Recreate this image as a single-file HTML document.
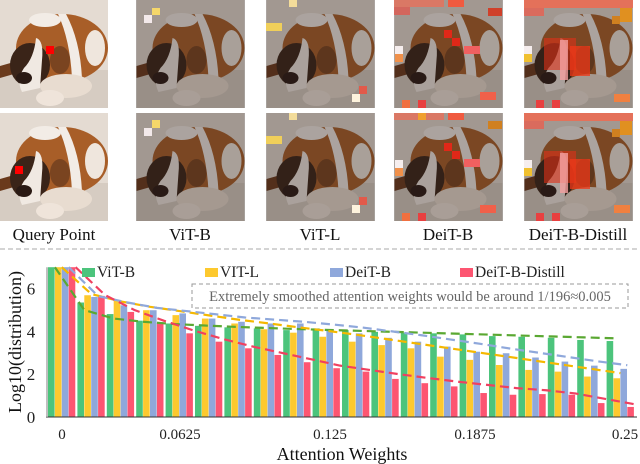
<!DOCTYPE html>
<html><head><meta charset="utf-8">
<style>
body{margin:0;background:#fff;width:640px;height:464px;overflow:hidden;font-family:"Liberation Serif",serif;}
svg{display:block}
</style></head>
<body>
<svg width="640" height="464" viewBox="0 0 640 464" xmlns="http://www.w3.org/2000/svg">
<defs>
<symbol id="dog" viewBox="0 0 108 108">
<rect width="108" height="108" fill="#e4dbd2"/>
<rect x="0" y="70" width="108" height="38" fill="#d6ccc2"/>
<path d="M0 66 L14 62 L14 74 L0 78Z" fill="#6a3a1c"/>
<ellipse cx="62" cy="48" rx="46" ry="34" fill="#a85e28"/>
<path d="M58 14 Q70 40 72 78 L82 78 Q80 40 66 14Z" fill="#f2ece6"/>
<ellipse cx="45" cy="20" rx="16" ry="7" fill="#f2ece6"/>
<ellipse cx="95" cy="48" rx="10" ry="18" fill="#efe6dd"/>
<ellipse cx="30" cy="65" rx="20" ry="22" fill="#3a2418"/>
<path d="M36 38 Q44 40 42 60 L40 88 L22 92 Q16 80 24 68 Q34 58 36 38Z" fill="#f0e9e2"/>
<ellipse cx="24" cy="78" rx="8" ry="6" fill="#2a1a14"/>
<ellipse cx="66" cy="86" rx="26" ry="12" fill="#e8dcd0"/>
<ellipse cx="50" cy="98" rx="14" ry="8" fill="#efe4da"/>
<ellipse cx="60" cy="60" rx="10" ry="14" fill="#7a4420"/>
</symbol>
</defs>

<g>
<g><use href="#dog" x="0" y="0" width="108" height="108"/><rect x="46" y="46" width="8" height="8" fill="#ff0000"/></g>
<g><use href="#dog" x="0" y="113" width="108" height="108"/><rect x="15" y="166" width="8" height="8" fill="#ff0000"/></g>

<g><use href="#dog" x="136" y="0" width="109" height="108"/><rect x="136" y="0" width="109" height="108" fill="rgba(40,30,25,0.35)"/><rect x="152" y="8" width="8" height="7" fill="#f5d76a"/><rect x="144" y="15" width="8" height="8" fill="#f3e9ea"/></g>
<g><use href="#dog" x="136" y="113" width="109" height="108"/><rect x="136" y="113" width="109" height="108" fill="rgba(40,30,25,0.35)"/><rect x="152" y="120" width="8" height="8" fill="#f5d76a"/><rect x="144" y="128" width="8" height="8" fill="#f3e9ea"/></g>

<g><use href="#dog" x="266" y="0" width="109" height="108"/><rect x="266" y="0" width="109" height="108" fill="rgba(40,30,25,0.35)"/><rect x="289" y="0" width="8" height="7" fill="#f3dc9a"/><rect x="266" y="23" width="16" height="8" fill="#f0cf5a"/><rect x="352" y="94" width="8" height="8" fill="#fdf2dc"/><rect x="359" y="86" width="8" height="8" fill="#e25a4a"/></g>
<g><use href="#dog" x="266" y="113" width="109" height="108"/><rect x="266" y="113" width="109" height="108" fill="rgba(40,30,25,0.35)"/><rect x="289" y="113" width="8" height="7" fill="#f3dc9a"/><rect x="266" y="136" width="16" height="8" fill="#f0cf5a"/><rect x="352" y="205" width="8" height="8" fill="#fdf2dc"/><rect x="359" y="197" width="8" height="8" fill="#e25a4a"/></g>

<g><use href="#dog" x="394" y="0" width="109" height="108"/><rect x="394" y="0" width="109" height="108" fill="rgba(40,30,25,0.35)"/>
<rect x="394" y="0" width="50" height="7" fill="#e8705a" opacity="0.8"/><rect x="448" y="0" width="16" height="7" fill="#f05a40"/><rect x="394" y="7" width="16" height="8" fill="#e05a50" opacity="0.8"/><rect x="395" y="46" width="8" height="8" fill="#f6eeee"/><rect x="395" y="54" width="8" height="8" fill="#f0904a"/><rect x="444" y="30" width="8" height="8" fill="#e02818"/><rect x="452" y="38" width="8" height="8" fill="#e02818"/><rect x="464" y="46" width="16" height="8" fill="#f06060"/><rect x="488" y="8" width="14" height="8" fill="#d0402a"/><rect x="480" y="92" width="16" height="8" fill="#f0604a"/><rect x="402" y="100" width="8" height="8" fill="#f07040"/><rect x="418" y="100" width="8" height="8" fill="#e84040"/></g>
<g><use href="#dog" x="394" y="113" width="109" height="108"/><rect x="394" y="113" width="109" height="108" fill="rgba(40,30,25,0.35)"/>
<rect x="394" y="113" width="50" height="7" fill="#e8705a" opacity="0.8"/><rect x="418" y="113" width="8" height="7" fill="#f0a030"/><rect x="448" y="113" width="16" height="7" fill="#f05a40"/><rect x="395" y="160" width="8" height="8" fill="#f6eeee"/><rect x="395" y="168" width="8" height="8" fill="#f0904a"/><rect x="444" y="143" width="8" height="8" fill="#e02818"/><rect x="452" y="151" width="8" height="8" fill="#e02818"/><rect x="464" y="159" width="16" height="8" fill="#f06060"/><rect x="488" y="121" width="14" height="8" fill="#d08020"/><rect x="480" y="205" width="16" height="8" fill="#f0604a"/><rect x="402" y="213" width="8" height="8" fill="#f07040"/><rect x="418" y="213" width="8" height="8" fill="#e84040"/></g>

<g><use href="#dog" x="524" y="0" width="109" height="108"/><rect x="524" y="0" width="109" height="108" fill="rgba(40,30,25,0.35)"/>
<rect x="524" y="0" width="109" height="8" fill="#f06a50" opacity="0.85"/><rect x="524" y="8" width="20" height="8" fill="#e86050" opacity="0.8"/><rect x="544" y="38" width="32" height="32" fill="#e03018" opacity="0.6"/><rect x="560" y="40" width="8" height="40" fill="#f4a0a0" opacity="0.8"/><rect x="570" y="46" width="20" height="30" fill="#f03818" opacity="0.75"/><rect x="524" y="46" width="8" height="8" fill="#f6eeee"/><rect x="524" y="54" width="8" height="8" fill="#f0c030"/><rect x="620" y="8" width="12" height="14" fill="#e09020"/><rect x="612" y="16" width="8" height="8" fill="#d08020"/><rect x="614" y="94" width="16" height="8" fill="#f08040"/><rect x="536" y="100" width="8" height="8" fill="#e84040"/><rect x="552" y="100" width="8" height="8" fill="#e84040"/></g>
<g><use href="#dog" x="524" y="113" width="109" height="108"/><rect x="524" y="113" width="109" height="108" fill="rgba(40,30,25,0.35)"/>
<rect x="524" y="113" width="109" height="8" fill="#f06a50" opacity="0.85"/><rect x="524" y="121" width="20" height="8" fill="#e86050" opacity="0.8"/><rect x="544" y="151" width="32" height="32" fill="#e03018" opacity="0.6"/><rect x="560" y="153" width="8" height="40" fill="#f4a0a0" opacity="0.8"/><rect x="570" y="159" width="20" height="30" fill="#f03818" opacity="0.75"/><rect x="524" y="160" width="8" height="8" fill="#f6eeee"/><rect x="524" y="168" width="8" height="8" fill="#f0c030"/><rect x="620" y="121" width="12" height="14" fill="#e09020"/><rect x="612" y="129" width="8" height="8" fill="#d08020"/><rect x="614" y="205" width="16" height="8" fill="#f08040"/><rect x="536" y="213" width="8" height="8" fill="#e84040"/><rect x="552" y="213" width="8" height="8" fill="#e84040"/></g>
</g>

<g font-size="17" fill="#111" text-anchor="middle">
<text x="54" y="240">Query Point</text>
<text x="190" y="240">ViT-B</text>
<text x="320" y="240">ViT-L</text>
<text x="448" y="240">DeiT-B</text>
<text x="578" y="240">DeiT-B-Distill</text>
</g>
<line x1="0" y1="249" x2="640" y2="249" stroke="#bbb" stroke-dasharray="5,3" stroke-width="1.2"/>

<g id="chart"></g>
</svg>
<script>
const categories = [0,1,2,3,4,5,6,7,8,9,10,11,12,13,14,15,16,17,18,19];
const vitB    = [7.0,5.35,4.81,4.5,4.37,4.26,4.19,4.14,4.06,4.14,4.06,3.98,3.94,3.91,3.86,3.78,3.75,3.7,3.6,3.55];
const vitL    = [7.0,5.69,5.43,4.99,4.76,4.6,4.37,4.1,3.94,3.75,3.52,3.36,3.21,2.82,2.67,2.43,2.2,2.12,1.89,1.81];
const deitB   = [7.0,5.61,5.22,4.99,4.84,4.6,4.45,4.37,4.37,4.06,3.91,3.7,3.52,3.29,3.05,2.98,2.78,2.59,2.4,2.25];
const deitBD  = [7.0,5.66,4.91,4.37,3.91,3.52,3.21,2.9,2.56,2.28,2.12,1.78,1.58,1.43,1.12,1.04,1.07,1.04,0.65,0.47];
const trendVitB  = [7.0,5.0,4.6,4.45,4.35,4.28,4.22,4.17,4.12,4.08,4.04,4.0,3.96,3.92,3.88,3.84,3.8,3.76,3.72,3.68];
const trendVitL  = [7.0,5.75,5.4,5.15,4.95,4.75,4.55,4.38,4.2,4.03,3.85,3.65,3.45,3.25,3.05,2.85,2.65,2.45,2.25,2.05];
const trendDeitB = [7.0,5.65,5.35,5.1,4.95,4.8,4.65,4.55,4.45,4.32,4.18,4.0,3.82,3.62,3.42,3.2,3.0,2.8,2.6,2.42];
const trendDeitBD= [7.0,5.7,5.0,4.5,4.05,3.65,3.3,3.0,2.7,2.4,2.2,2.0,1.82,1.65,1.5,1.35,1.25,1.1,0.85,0.6];
const yTicks = [0,2,4,6];
const xTickLabels = ["0","0.0625","0.125","0.1875","0.25"];
const xTickValues = [0,0.0625,0.125,0.1875,0.25];

const NS="http://www.w3.org/2000/svg";
const g=document.getElementById('chart');
const X0=48, PITCH=29.4, BW=6.9, Y0=417, YS=21.4;
const xBand=i=>X0+i*PITCH;
const yS=v=>Y0-v*YS;
const xVal=v=>{ // attention weight -> px (tick positions measured in reference)
  const px=[62,180,330,475,625]; const k=v/0.0625; const i=Math.min(3,Math.floor(k)); return px[i]+(px[i+1]-px[i])*(k-i);
};
function mk(tag,attrs){const e=document.createElementNS(NS,tag);for(const k in attrs)e.setAttribute(k,attrs[k]);g.appendChild(e);return e;}

const series=[[vitB,'#4cc47c','bar-vit-b'],[vitL,'#fdc92e','bar-vit-l'],[deitB,'#8fa8db','bar-deit-b'],[deitBD,'#fd5571','bar-deit-b-distill']];
categories.forEach(i=>{
  series.forEach((s,j)=>{
    const v=s[0][i];
    const r=mk('rect',{x:xBand(i)+j*BW,y:yS(v),width:BW-0.3,height:v*YS,fill:s[1]});
    
    
  });
});
const trends=[[trendVitB,'#5aa832','trend-vit-b'],[trendVitL,'#f5b800','trend-vit-l'],[trendDeitB,'#8fa8db','trend-deit-b'],[trendDeitBD,'#f04060','trend-deit-b-distill']];
trends.forEach((t,j)=>{
  const pts=t[0].map((v,i)=>(xBand(i)+(j+1)*BW)+','+yS(v)).join(' ');
  const p=mk('polyline',{points:pts,fill:'none',stroke:t[1],'stroke-width':2.2,'stroke-dasharray':'9,5'});
  
  
});
const ax=mk('line',{x1:46,y1:Y0,x2:637,y2:Y0,stroke:'#333','stroke-width':1});


const ay=mk('line',{x1:47,y1:yS(7),x2:47,y2:Y0,stroke:'#aaa','stroke-width':1.5});


yTicks.forEach(v=>{
  const t=mk('text',{x:31,y:yS(v)+6,'font-size':17,'text-anchor':'middle',fill:'#222'});
  t.textContent=v;
  
  
});
xTickValues.forEach((v,i)=>{
  const t=mk('text',{x:xVal(v),y:439,'font-size':15,'text-anchor':'middle',fill:'#222'});
  t.textContent=xTickLabels[i];
  
  
});
const xt=mk('text',{x:342,y:460,'font-size':18,'text-anchor':'middle',fill:'#111'});
xt.textContent='Attention Weights';


const yt=mk('text',{x:0,y:0,'font-size':18,'text-anchor':'middle',fill:'#111',transform:'translate(21,342) rotate(-90)'});
yt.textContent='Log10(distribution)';



const legend=[['ViT-B','#4cc47c',82],['VIT-L','#fdc92e',205],['DeiT-B','#8fa8db',330],['DeiT-B-Distill','#fd5571',460]];
legend.forEach(l=>{
  const r=mk('rect',{x:l[2],y:268,width:13,height:9,fill:l[1]});
  
  
  const t=mk('text',{x:l[2]+15,y:277,'font-size':15.5,fill:'#222'});
  t.textContent=l[0];
  
  
});
const box=mk('rect',{x:192,y:284,width:436,height:24,fill:'#fff',stroke:'#999','stroke-dasharray':'4,3','stroke-width':1});


const at=mk('text',{x:410,y:301,'font-size':14.5,'text-anchor':'middle',fill:'#666'});
at.textContent='Extremely smoothed attention weights would be around 1/196\u22480.005';


</script>
</body></html>
